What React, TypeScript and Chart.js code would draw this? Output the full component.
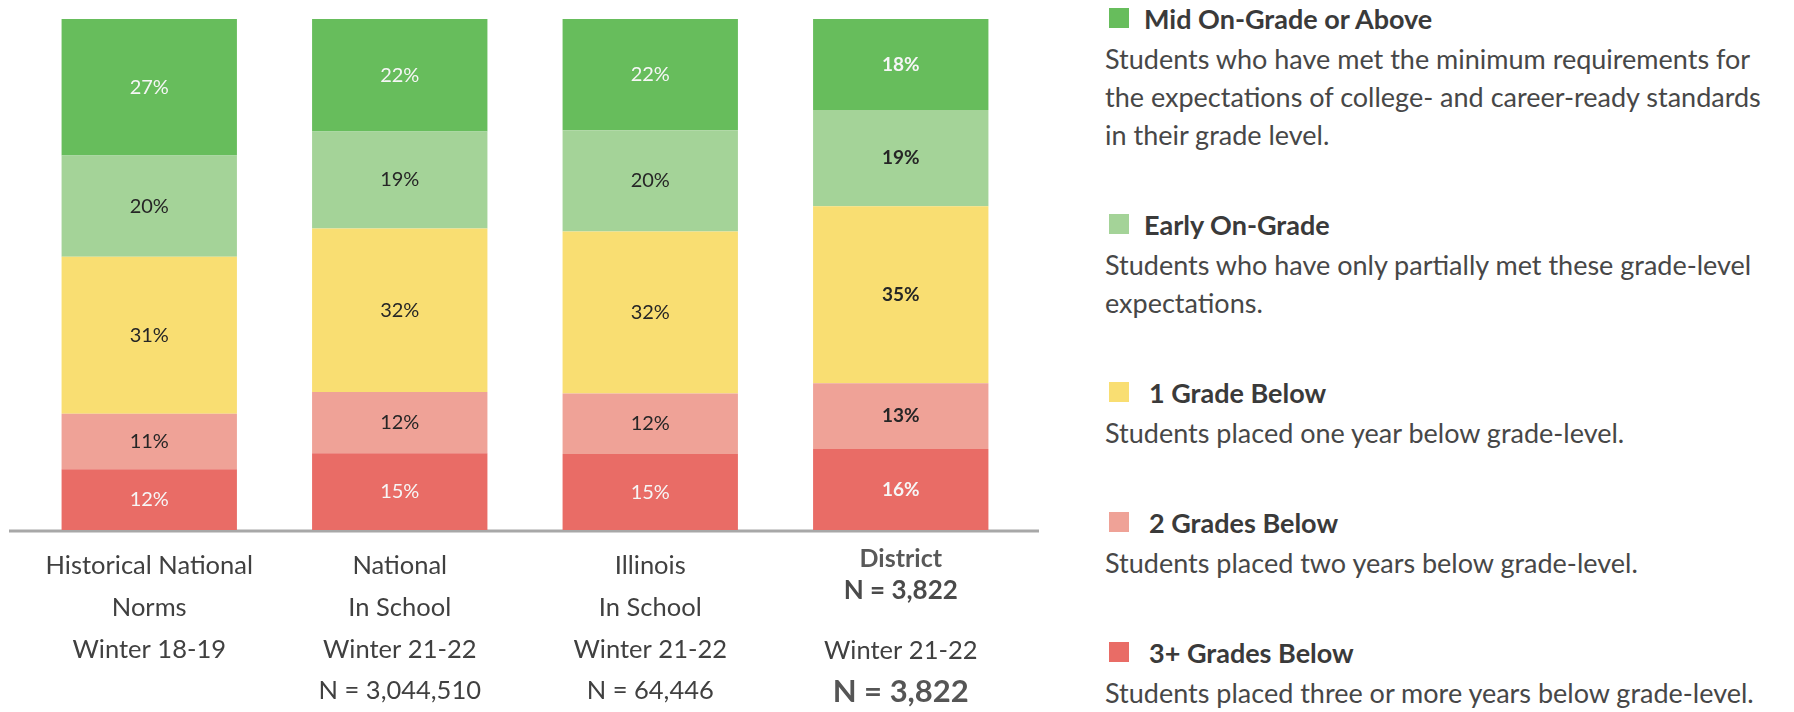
import React, { useEffect, useRef } from "react";
import { Chart, registerables } from "chart.js";

Chart.register(...registerables);

// ---------------- DATA ----------------
const categories = ["Historical National Norms", "National In School", "Illinois In School", "District"];

const categoryLabelLines: string[][] = [
  ["Historical National", "Norms", "Winter 18-19"],
  ["National", "In School", "Winter 21-22", "N = 3,044,510"],
  ["Illinois", "In School", "Winter 21-22", "N = 64,446"],
  ["District", "N = 3,822", "", "Winter 21-22", "N = 3,822"],
];

const seriesNames = ["3+ Grades Below", "2 Grades Below", "1 Grade Below", "Early On-Grade", "Mid On-Grade or Above"];
const threePlusGradesBelow = [12, 15, 15, 16];
const twoGradesBelow = [11, 12, 12, 13];
const oneGradeBelow = [31, 32, 32, 35];
const earlyOnGrade = [20, 19, 20, 19];
const midOnGradeOrAbove = [27, 22, 22, 18];

const legendTitles = ["Mid On-Grade or Above", "Early On-Grade", "1 Grade Below", "2 Grades Below", "3+ Grades Below"];
const legendDescriptions: string[][] = [
  [
    "Students who have met the minimum requirements for",
    "the expectations of college- and career-ready standards",
    "in their grade level.",
  ],
  ["Students who have only partially met these grade-level", "expectations."],
  ["Students placed one year below grade-level."],
  ["Students placed two years below grade-level."],
  ["Students placed three or more years below grade-level."],
];

// ---------------- STYLE ----------------
const FONT = "Lato, 'Open Sans', sans-serif";
const seriesColors = ["#E96C66", "#EFA297", "#F9DE72", "#A4D398", "#67BD5C"];
const legendColors = ["#67BD5C", "#A4D398", "#F9DE72", "#EFA297", "#E96C66"];
const labelTextColors = ["#F6F6F6", "#262626", "#262626", "#262626", "#F6F6F6"];

const seriesValues = [threePlusGradesBelow, twoGradesBelow, oneGradeBelow, earlyOnGrade, midOnGradeOrAbove];
// 100% stacked: each bar's printed shares are scaled to its own total
const barTotals = categories.map((_, ci) => seriesValues.reduce((s, arr) => s + arr[ci], 0));

type LineStyle = { dy: number; font: string; color: string };
const regularLine = (i: number): LineStyle => ({
  dy: 36 + i * 41.7,
  font: `25.5px ${FONT}`,
  color: "#404040",
});
const districtLineStyles: LineStyle[] = [
  { dy: 29, font: `bold 25px ${FONT}`, color: "#595959" },
  { dy: 61, font: `bold 26px ${FONT}`, color: "#4a4a4a" },
  { dy: 90, font: `25.5px ${FONT}`, color: "#404040" },
  { dy: 120.5, font: `25.5px ${FONT}`, color: "#404040" },
  { dy: 162, font: `bold 31px ${FONT}`, color: "#555555" },
];

const segmentLabelPlugin = {
  id: "segmentLabels",
  afterDatasetsDraw(chart: any) {
    const { ctx, chartArea } = chart;
    ctx.save();
    ctx.textAlign = "center";
    ctx.textBaseline = "middle";
    chart.data.datasets.forEach((_ds: any, di: number) => {
      const meta = chart.getDatasetMeta(di);
      meta.data.forEach((el: any, i: number) => {
        const top = Math.max(el.y, chartArea.top);
        const cy = (top + el.base) / 2;
        const isDistrict = i === 3;
        ctx.font = isDistrict ? `bold 19px ${FONT}` : `20px ${FONT}`;
        ctx.fillStyle = labelTextColors[di];
        ctx.fillText(`${seriesValues[di][i]}%`, el.x, cy);
      });
    });
    ctx.restore();
  },
};

const baselinePlugin = {
  id: "baseline",
  beforeDatasetsDraw(chart: any) {
    const { ctx, chartArea, scales } = chart;
    const y = scales.y.getPixelForValue(0);
    ctx.save();
    ctx.strokeStyle = "#A8A8A8";
    ctx.lineWidth = 3;
    ctx.beginPath();
    ctx.moveTo(chartArea.left - 15, y + 1);
    ctx.lineTo(chartArea.right + 13, y + 1);
    ctx.stroke();
    ctx.restore();
  },
};

const categoryLabelPlugin = {
  id: "categoryLabels",
  afterDraw(chart: any) {
    const { ctx, scales } = chart;
    const base = scales.y.getPixelForValue(0);
    ctx.save();
    ctx.textAlign = "center";
    ctx.textBaseline = "middle";
    categoryLabelLines.forEach((lines, ci) => {
      const x = scales.x.getPixelForValue(ci);
      lines.forEach((line, li) => {
        if (!line) return;
        const st = ci === 3 ? districtLineStyles[li] : regularLine(li);
        ctx.font = st.font;
        ctx.fillStyle = st.color;
        ctx.fillText(line, x, base + st.dy);
      });
    });
    ctx.restore();
  },
};

function BarChart() {
  const ref = useRef<HTMLCanvasElement | null>(null);
  useEffect(() => {
    if (!ref.current) return;
    const chart = new Chart(ref.current, {
      type: "bar",
      data: {
        labels: categories,
        datasets: seriesNames.map((name, i) => ({
          label: name,
          data: seriesValues[i].map((v, ci) => (v / barTotals[ci]) * 100),
          backgroundColor: seriesColors[i],
          borderWidth: 0,
          barPercentage: 0.7,
          categoryPercentage: 1,
        })),
      },
      options: {
        animation: false,
        responsive: true,
        maintainAspectRatio: false,
        layout: { padding: { left: 24, right: 34, top: 19, bottom: 182 } },
        plugins: { legend: { display: false }, tooltip: { enabled: false } },
        scales: {
          x: { stacked: true, display: false },
          y: { stacked: true, display: false, min: 0, max: 100 },
        },
      },
      plugins: [baselinePlugin, segmentLabelPlugin, categoryLabelPlugin],
    });
    return () => chart.destroy();
  }, []);
  return <canvas ref={ref} />;
}

function Legend() {
  return (
    <div style={{ position: "absolute", left: 1105, top: -1, fontFamily: FONT }}>
      {legendTitles.map((t, i) => (
        <div key={t} style={{ marginTop: i === 0 ? 0 : 51 }}>
          <div style={{ display: "flex", alignItems: "center", height: 38 }}>
            <div style={{ width: 20, height: 20, background: legendColors[i], marginLeft: 4, marginRight: i >= 2 ? 20 : 15 }} />
            <span style={{ fontWeight: 700, fontSize: 27, color: "#3a3a3a", whiteSpace: "nowrap" }}>{t}</span>
          </div>
          <div style={{ marginTop: 3 }}>
            {legendDescriptions[i].map((l) => (
              <div key={l} style={{ fontSize: 27, lineHeight: "38px", height: 38, color: "#474747", whiteSpace: "nowrap" }}>
                {l}
              </div>
            ))}
          </div>
        </div>
      ))}
    </div>
  );
}

export default function App() {
  return (
    <div style={{ position: "absolute", left: 0, top: 0, width: 1794, height: 712, background: "#ffffff", overflow: "hidden" }}>
      <div style={{ position: "absolute", left: 0, top: 0, width: 1060, height: 712 }}>
        <BarChart />
      </div>
      <Legend />
    </div>
  );
}
